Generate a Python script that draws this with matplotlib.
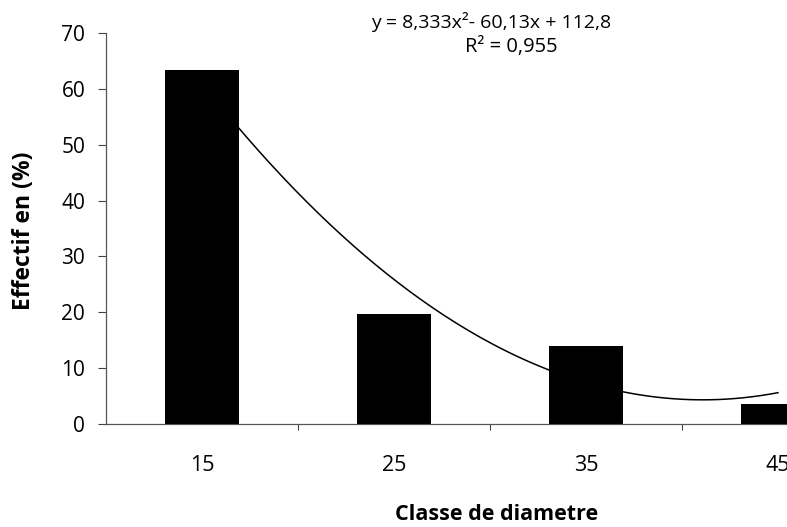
import numpy as np
import matplotlib
matplotlib.use("Agg")
import matplotlib.pyplot as plt

categories = ["15", "25", "35", "45"]
values = [63.3, 19.7, 13.9, 3.5]
trend_coefs = [8.333, -60.13, 112.8]  # displayed trendline equation
yticks = [0, 10, 20, 30, 40, 50, 60, 70]

plt.rcParams['font.family'] = ['Open Sans', 'DejaVu Sans']

fig = plt.figure(figsize=(7.87, 5.27), dpi=100)
ax = fig.add_axes([106/787, 1-424/527, (874-106)/787, (424-33)/527])

x = np.arange(1, len(categories)+1)
ax.bar(x, values, width=0.39, color='black', zorder=3)

xs = np.linspace(1, 4, 200)
ax.plot(xs, np.polyval(trend_coefs, xs), color='black', lw=1.1, zorder=2)

ax.set_xlim(0.5, 4.5)
ax.set_ylim(0, 70)
ax.set_yticks(yticks)
ax.set_yticklabels([str(v) for v in yticks], fontsize=15)
ax.set_xticks(x)
ax.set_xticklabels(categories, fontsize=15.5)
ax.tick_params(axis='x', length=0, pad=22)
ax.set_xticks([1.5, 2.5, 3.5, 4.5], minor=True)
ax.tick_params(axis='x', which='minor', length=4, width=0.8, color='#444444')
ax.tick_params(axis='y', length=6, width=0.8, color='#444444', pad=9)

for s in ['top', 'right']:
    ax.spines[s].set_visible(False)
for s in ['left', 'bottom']:
    ax.spines[s].set_color('#555555')
    ax.spines[s].set_linewidth(0.9)

fig.text(24/787, 1-231/527, "Effectif en (%)", rotation=90, fontsize=16.5,
         fontweight='bold', ha='center', va='center')
fig.text(497/787, 1-514/527, "Classe de diametre", fontsize=15.5,
         fontweight='bold', ha='center', va='center')
fig.text(491/787, 1-22/527, "y = 8,333x²- 60,13x + 112,8", fontsize=14,
         ha='center', va='center')
fig.text(511/787, 1-47/527, "R² = 0,955", fontsize=14.5,
         ha='center', va='center')

fig.savefig("out.png", dpi=100)
